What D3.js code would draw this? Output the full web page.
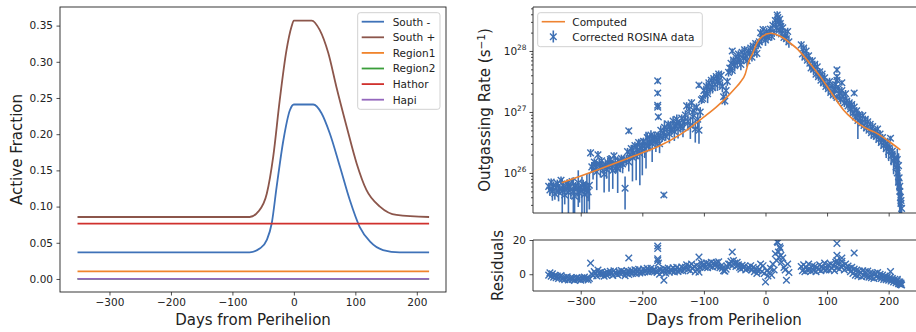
<!DOCTYPE html>
<html>
<head>
<meta charset="utf-8">
<script src="https://cdn.jsdelivr.net/npm/d3@7"></script>
<style>
  body { margin: 0; background: #fff; }
  svg text { font-family: "DejaVu Sans", sans-serif; fill: #222; }
</style>
</head>
<body>
<svg id="chart" width="916" height="332"></svg>
<script>
// ---------- left panel: active fraction per region ----------
const regionNames = ['South -', 'South +', 'Region1', 'Region2', 'Hathor', 'Hapi'];
const regionColors = ['#3f72b8', '#8c564b', '#f0842c', '#3a9e3a', '#d0312d', '#9467bd'];

const southMinusDay = [-352, -72, -55, -44, -36, -28, -17, -6.5, 0, 31.5, 45, 58.5, 75, 91, 107, 124, 145, 172, 220];
const southMinusVal = [0.0368, 0.0368, 0.0424, 0.054, 0.077, 0.1275, 0.192, 0.233, 0.241, 0.241, 0.229, 0.201, 0.155, 0.109, 0.072, 0.0515, 0.040, 0.0368, 0.0368];

const southPlusDay = [-352, -72, -58, -44, -33.6, -23, -12, -4, 0, 29, 42, 56, 69, 86, 102, 118, 140, 167, 220];
const southPlusVal = [0.0856, 0.0856, 0.093, 0.118, 0.169, 0.247, 0.316, 0.348, 0.357, 0.357, 0.344, 0.312, 0.266, 0.210, 0.160, 0.123, 0.100, 0.0884, 0.0856];

const flatDay = [-352, 220];
const region1Val = [0.0105, 0.0105];
const region2Val = [0.0, 0.0];
const hathorVal = [0.0764, 0.0764];
const hapiVal = [0.0, 0.0];

const dayTicks = [-300, -200, -100, 0, 100, 200];
const fracTicks = [0, 0.05, 0.10, 0.15, 0.20, 0.25, 0.30, 0.35];

// ---------- right panel: computed curve (log10 of rate) ----------
const modelDay = [-331, -300, -270, -231, -200, -171, -140, -120, -101, -80, -63, -50, -40, -33, -28,
  -20, -14, -5, 8, 24, 40, 52, 62, 75, 89, 108, 127, 140, 154, 168, 181, 200, 219];
const modelLogQ = [25.84, 25.95, 26.06, 26.21, 26.33, 26.45, 26.62, 26.76, 26.91, 27.08, 27.24, 27.38, 27.50, 27.62, 27.80,
  27.98, 28.13, 28.24, 28.29, 28.24, 28.13, 28.03, 27.92, 27.76, 27.58, 27.30, 27.03, 26.90, 26.79, 26.71, 26.65, 26.52, 26.38];

// ---------- corrected ROSINA data: day, log10 rate, relative error, residual ----------
const obsDay = [
  -352, -350, -348, -346, -344, -342, -340, -338, -336, -334, -332, -330, -328, -326, -324, -322, -320, -318, -316, -314, -312, -310, -308, -306, -304, -302, -300, -298, -296, -294, -292, -290, -288, -286,
  -284, -282, -280, -278, -276, -274, -272, -270, -268, -266, -264, -262, -260, -258, -256, -254, -252, -250, -248, -246, -244, -242, -240, -238, -236, -234, -232, -230,
  -228, -222,
  -226, -224, -222, -220, -218, -216, -214, -212, -210, -208, -206, -204, -202, -200, -198, -196, -194, -192, -190, -188, -186, -184, -182, -180, -178,
  -175, -175, -175, -175, -174, -165,
  -176, -174, -172, -170, -168, -166, -164, -162, -160, -158, -156, -154, -152, -150, -148, -146, -144, -142, -140, -138, -136, -134, -132,
  -130, -128, -126, -124, -122, -120, -118, -116, -114, -112, -110, -108, -106, -104,
  -108,
  -102, -100, -98, -96, -94, -92, -90, -88, -86, -84, -82, -80, -78, -76, -74,
  -72, -70, -68, -66, -64, -62, -60,
  -58, -56, -54, -52, -50, -48, -46, -44, -42, -40, -38, -36, -34, -32, -30, -28,
  -54,
  -26, -24, -22, -20, -18, -16, -14, -12,
  -10, -8, -6, -4, -2, 0, 2, 4, 6, 8, 10, 12, 14, 16, 18, 20, 22, 24, 26, 28, 30,
  19, 21, 23, 25,
  32, 34, 36, 38,
  58, 60, 62, 64, 66, 68, 70, 72, 74, 76, 78, 80, 82, 84, 86, 88, 90, 92, 94, 96, 98,
  100, 102, 104, 106, 108, 110, 112, 114, 116, 118, 120, 122, 124, 126, 128, 130, 132, 134,
  116, 116, 116, 124, 144,
  136, 138, 140, 142, 144, 146, 148, 150, 152, 154, 156, 158, 160, 162, 164, 166, 168, 170, 172, 174, 176,
  178, 180, 182, 184, 186, 188, 190, 192, 194, 196, 198, 200, 202, 204, 206, 208, 210, 212, 214, 216, 218, 220,
  214, 216, 217, 218, 219, 220, 221,
  203
];
const obsLogQ = [
  25.78, 25.72, 25.85, 25.70, 25.80, 25.66, 25.76, 25.83, 25.69, 25.74, 25.88, 25.71, 25.79, 25.64, 25.75, 25.82, 25.68, 25.77, 25.73, 25.86, 25.70, 25.62, 25.79, 25.74, 25.84, 25.67, 25.76, 25.71, 25.81, 25.65, 25.78, 25.73, 25.69, 25.80,
  26.33, 26.10, 26.05, 26.18, 26.12, 26.02, 26.30, 26.15, 26.08, 26.20, 26.11, 25.98, 26.14, 26.06, 26.17, 26.09, 26.22, 26.13, 26.04, 26.28, 26.16, 26.10, 26.07, 26.19, 26.12, 26.24, 26.15, 26.20,
  25.75, 26.69,
  26.22, 26.35, 26.18, 26.30, 26.40, 26.26, 26.33, 26.45, 26.28, 26.38, 26.50, 26.32, 26.42, 26.36, 26.52, 26.40, 26.47, 26.58, 26.44, 26.51, 26.62, 26.48, 26.55, 26.60, 26.50,
  27.51, 27.31, 27.11, 27.08, 26.92, 25.64,
  26.55, 26.62, 26.48, 26.70, 26.58, 26.66, 26.75, 26.60, 26.72, 26.80, 26.64, 26.77, 26.70, 26.85, 26.68, 26.78, 26.88, 26.72, 26.82, 26.76, 26.90, 26.74, 26.84,
  26.95, 27.10, 26.85, 27.05, 26.78, 27.15, 26.92, 27.02, 26.72, 27.08, 26.88, 26.70, 27.00, 27.20,
  27.44,
  27.22, 27.35, 27.28, 27.42, 27.30, 27.48, 27.38, 27.52, 27.40, 27.55, 27.45, 27.58, 27.50, 27.62, 27.48,
  27.60, 27.42, 27.25, 27.18, 27.35, 27.50, 27.65,
  27.72, 27.80, 27.68, 27.85, 27.76, 27.90, 27.82, 27.95, 27.86, 27.78, 27.98, 27.88, 28.02, 27.92, 27.84, 28.00,
  28.00,
  27.95, 28.05, 27.90, 28.08, 28.00, 28.12, 27.96, 28.10,
  28.15, 28.30, 28.20, 28.35, 28.25, 28.18, 28.32, 28.22, 28.28, 28.36, 28.24, 28.42, 28.30, 28.50, 28.38, 28.55, 28.34, 28.45, 28.28, 28.38, 28.22,
  28.59, 28.48, 28.52, 28.40,
  28.28, 28.20, 28.32, 28.15,
  28.10, 27.95, 28.05, 27.90, 28.00, 27.85, 27.92, 27.80, 27.72, 27.84, 27.70, 27.78, 27.62, 27.74, 27.58, 27.66, 27.52, 27.62, 27.48, 27.56, 27.42,
  27.45, 27.38, 27.50, 27.32, 27.42, 27.28, 27.36, 27.45, 27.24, 27.38, 27.30, 27.20, 27.35, 27.26, 27.15, 27.30, 27.18, 27.10,
  27.69, 27.58, 27.52, 27.48, 27.31,
  27.15, 27.05, 27.12, 26.98, 27.08, 26.92, 27.02, 26.86, 26.96, 26.90, 26.82, 26.94, 26.78, 26.88, 26.74, 26.84, 26.70, 26.80, 26.66, 26.76, 26.62,
  26.68, 26.60, 26.72, 26.55, 26.64, 26.50, 26.58, 26.45, 26.52, 26.40, 26.48, 26.35, 26.42, 26.28, 26.36, 26.20, 26.25, 26.10, 26.00, 25.85, 25.70, 25.55,
  26.22, 26.12, 25.92, 25.78, 25.60, 25.50, 25.42,
  26.57
];
const obsErr = [
  0.15, 0.2, 0.15, 0.3, 0.15, 0.2, 0.15, 0.15, 0.3, 0.2, 0.15, 0.6, 0.2, 0.3, 0.15, 0.2, 0.6, 0.15, 0.3, 0.15, 0.7, 0.5, 0.15, 0.2, 0.6, 0.3, 0.15, 0.7, 0.2, 0.6, 0.2, 0.8, 0.3, 0.6,
  0.15, 0.2, 0.3, 0.15, 0.2, 0.5, 0.15, 0.2, 0.3, 0.15, 0.2, 0.5, 0.15, 0.3, 0.2, 0.6, 0.15, 0.2, 0.5, 0.15, 0.3, 0.2, 0.6, 0.15, 0.2, 0.15, 0.3, 0.2,
  0.55, 0.1,
  0.2, 0.15, 0.3, 0.2, 0.15, 0.6, 0.2, 0.15, 0.6, 0.3, 0.15, 0.7, 0.2, 0.6, 0.15, 0.3, 0.6, 0.2, 0.15, 0.3, 0.2, 0.5, 0.15, 0.2, 0.3,
  0.1, 0.1, 0.1, 0.1, 0.1, 0.1,
  0.2, 0.15, 0.3, 0.2, 0.15, 0.2, 0.3, 0.15, 0.2, 0.15, 0.3, 0.2, 0.15, 0.2, 0.3, 0.15, 0.2, 0.3, 0.15, 0.2, 0.15, 0.3, 0.2,
  0.2, 0.15, 0.3, 0.2, 0.4, 0.15, 0.3, 0.2, 0.4, 0.15, 0.3, 0.4, 0.2, 0.15,
  0.1,
  0.15, 0.2, 0.15, 0.2, 0.3, 0.15, 0.2, 0.15, 0.2, 0.15, 0.2, 0.15, 0.3, 0.15, 0.2,
  0.15, 0.2, 0.2, 0.15, 0.2, 0.15, 0.15,
  0.15, 0.2, 0.15, 0.15, 0.2, 0.15, 0.2, 0.15, 0.15, 0.2, 0.15, 0.2, 0.15, 0.15, 0.2, 0.15,
  0.1,
  0.15, 0.15, 0.15, 0.15, 0.15, 0.15, 0.15, 0.15,
  0.15, 0.15, 0.2, 0.15, 0.15, 0.2, 0.15, 0.15, 0.2, 0.15, 0.15, 0.2, 0.15, 0.2, 0.15, 0.2, 0.15, 0.2, 0.15, 0.2, 0.15,
  0.15, 0.15, 0.15, 0.15,
  0.15, 0.2, 0.15, 0.2,
  0.15, 0.2, 0.15, 0.15, 0.2, 0.15, 0.15, 0.2, 0.15, 0.15, 0.2, 0.15, 0.15, 0.2, 0.15, 0.15, 0.2, 0.15, 0.15, 0.2, 0.15,
  0.15, 0.2, 0.15, 0.15, 0.2, 0.15, 0.15, 0.2, 0.15, 0.15, 0.2, 0.15, 0.15, 0.2, 0.15, 0.15, 0.2, 0.15,
  0.1, 0.1, 0.1, 0.1, 0.1,
  0.15, 0.2, 0.15, 0.15, 0.2, 0.15, 0.15, 0.5, 0.15, 0.2, 0.15, 0.15, 0.2, 0.15, 0.15, 0.2, 0.15, 0.15, 0.2, 0.15, 0.15,
  0.15, 0.2, 0.15, 0.2, 0.15, 0.2, 0.15, 0.2, 0.15, 0.3, 0.2, 0.3, 0.2, 0.3, 0.2, 0.4, 0.3, 0.5, 0.5, 0.6, 0.7, 0.8,
  0.5, 0.6, 0.6, 0.7, 0.8, 0.8, 0.9,
  0.1
];
const obsResidual = [
  -0.5, 0.8, -1.2, 0.3, -1.8, -0.6, -2.1, -1.0, -2.5, -1.4, -0.8, -2.8, -1.9, -3.2, -2.2, -1.5, -3.4, -2.6, -2.0, -3.1, -2.4, -3.6, -2.7, -1.9, -3.0, -2.3, -3.5, -2.1, -2.8, -1.6, -2.9, -2.2, -3.3, -2.5,
  6.5, 0.2, -0.8, 1.5, 0.4, -1.0, 2.5, 0.9, -0.3, 1.4, 0.1, -1.2, 0.8, -0.5, 1.2, 0.0, 1.7, 0.6, -0.7, 2.0, 0.9, 0.3, -0.4, 1.3, 0.5, 2.2, 0.8, 1.5,
  -0.8, 9.5,
  0.6, 1.8, -0.2, 1.1, 2.3, 0.4, 1.2, 2.6, 0.3, 1.5, 2.9, 0.8, 1.9, 1.0, 3.0, 1.4, 2.2, 3.4, 1.3, 2.0, 3.5, 1.6, 2.4, 2.8, 1.7,
  16.5, 15.0, 9.0, 8.0, 6.5, -3.5,
  1.0, 2.2, 0.0, 2.8, 1.2, 2.0, 3.2, 0.6, 2.5, 3.6, 1.2, 2.8, 1.8, 3.8, 1.4, 2.6, 4.0, 1.6, 3.0, 2.2, 4.2, 1.9, 3.2,
  4.0, 5.5, 2.8, 4.8, 2.0, 6.0, 3.5, 4.5, 1.5, 5.2, 3.0, 1.2, 4.2, 6.5,
  10.0,
  4.5, 6.0, 4.0, 6.5, 3.8, 6.2, 4.5, 7.0, 4.2, 6.5, 5.0, 6.8, 4.5, 7.2, 3.8,
  5.0, 3.5, 2.0, 1.8, 3.0, 4.5, 6.0,
  6.0, 7.5, 5.0, 8.0, 6.5, 4.5, 7.0, 5.5, 4.0, 3.0, 5.2, 3.8, 4.6, 2.5, 3.2, 4.0,
  13.0,
  3.5, 5.0, 2.5, 4.0, 1.5, 3.0, 0.5, 2.0,
  3.0, 6.0, 1.5, 5.0, 0.5, -4.5, 2.0, -1.0, 1.0, 3.5, -0.5, 6.0, 2.5, 12.0, 8.0, 18.5, 10.0, 15.0, 7.0, 9.5, 4.0,
  19.0, 13.0, 16.0, 11.0,
  2.5, -3.5, 6.0, 1.0,
  4.5, 2.0, 5.5, 1.5, 4.0, 2.5, 6.0, 3.0, 1.8, 5.0, 2.2, 4.5, 1.5, 3.8, 2.8, 5.5, 2.0, 4.2, 3.0, 6.5, 2.5,
  3.0, 5.5, 2.5, 6.0, 3.5, 5.0, 2.0, 7.0, 4.0, 6.5, 3.0, 4.5, 7.5, 5.0, 2.5, 6.0, 3.5, 4.8,
  18.0, 11.0, 8.0, 9.5, 12.4,
  3.5, 1.5, 4.0, 0.5, 3.0, -0.5, 2.5, -1.0, 2.0, 1.0, -1.5, 2.0, -0.8, 1.5, -1.2, 1.8, -1.8, 0.8, -2.0, 0.5, -2.5,
  0.5, -1.5, 1.0, -2.0, 0.0, -2.5, -0.5, -3.0, -1.0, -3.2, -1.5, -3.5, -2.0, -4.0, -2.5, -4.5, -3.0, -5.0, -3.8, -5.5, -4.5, -6.0,
  -3.0, -4.5, -5.0, -5.5, -6.0, -5.2, -6.3,
  1.5
];

const logTicks = [26, 27, 28];
const residualTicks = [0, 20];

// ---------- drawing ----------
const svg = d3.select('#chart');
const ink = '#222';
const dataBlue = '#3d6fb3';
const computedOrange = '#ee8331';

const fmtDay = d => (d < 0 ? '\u2212' + Math.abs(d) : String(d));

function styleAxis(g) {
  g.select('.domain').remove();
  g.attr('font-family', 'DejaVu Sans').attr('font-size', 10.5);
  g.selectAll('.tick line').attr('stroke', ink).attr('stroke-width', 0.8);
  g.selectAll('.tick text').attr('fill', ink);
}

function addClip(id, x, y, w, h) {
  svg.append('clipPath').attr('id', id)
    .append('rect').attr('x', x).attr('y', y).attr('width', w).attr('height', h);
}

// Left panel
const xL = d3.scaleLinear().domain([-380.5, 247.5]).range([60, 446]);
const yL = d3.scaleLinear().domain([-0.018, 0.3757]).range([292, 7]);
addClip('clipL', 60, 7, 386, 285);

const leftSeries = [
  { day: southMinusDay, val: southMinusVal },
  { day: southPlusDay, val: southPlusVal },
  { day: flatDay, val: region1Val },
  { day: flatDay, val: region2Val },
  { day: flatDay, val: hathorVal },
  { day: flatDay, val: hapiVal },
];

const lineL = d3.line().x(d => xL(d[0])).y(d => yL(d[1])).curve(d3.curveMonotoneX);
svg.append('g').attr('clip-path', 'url(#clipL)')
  .selectAll('path')
  .data(leftSeries)
  .enter()
  .append('path')
  .attr('d', s => lineL(s.day.map((d, i) => [d, s.val[i]])))
  .attr('fill', 'none')
  .attr('stroke', (s, i) => regionColors[i])
  .attr('stroke-width', 1.8);

svg.append('g').attr('transform', 'translate(0,292)')
  .call(d3.axisBottom(xL).tickValues(dayTicks).tickFormat(fmtDay).tickSize(3.5).tickPadding(3.5))
  .call(styleAxis);
svg.append('g').attr('transform', 'translate(60,0)')
  .call(d3.axisLeft(yL).tickValues(fracTicks).tickFormat(d3.format('.2f')).tickSize(3.5).tickPadding(3.5))
  .call(styleAxis);
svg.append('rect').attr('x', 60).attr('y', 7).attr('width', 386).attr('height', 285)
  .attr('fill', 'none').attr('stroke', ink).attr('stroke-width', 0.9);

svg.append('text').attr('x', 253).attr('y', 324.5).attr('text-anchor', 'middle')
  .attr('font-size', 15).text('Days from Perihelion');
svg.append('text').attr('transform', 'translate(22,149.5) rotate(-90)').attr('text-anchor', 'middle')
  .attr('font-size', 15).text('Active Fraction');

// left legend
const legL = svg.append('g');
legL.append('rect').attr('x', 357.7).attr('y', 12.7).attr('width', 82.3).attr('height', 96.6)
  .attr('rx', 2.5).attr('fill', '#fff').attr('fill-opacity', 0.8).attr('stroke', '#ccc').attr('stroke-width', 0.9);
const legRows = legL.selectAll('.row').data(regionNames).enter().append('g')
  .attr('transform', (d, i) => `translate(0,${21.7 + i * 15.6})`);
legRows.append('line').attr('x1', 361.7).attr('x2', 384).attr('y1', 0).attr('y2', 0)
  .attr('stroke', (d, i) => regionColors[i]).attr('stroke-width', 1.8);
legRows.append('text').attr('x', 392.7).attr('y', 3.8).attr('font-size', 10.5).text(d => d);

// Right top panel
const xR = d3.scaleLinear().domain([-377.5, 246]).range([533, 917]);
const yT = d3.scaleLog().domain([Math.pow(10, 25.344), Math.pow(10, 28.721)]).range([213, 7]);
addClip('clipT', 533, 7, 384, 206);

const n = Math.min(obsDay.length, obsLogQ.length, obsErr.length, obsResidual.length);
const obs = d3.range(n).map(i => ({
  day: obsDay[i], q: Math.pow(10, obsLogQ[i]), e: obsErr[i], r: obsResidual[i],
}));

const gT = svg.append('g').attr('clip-path', 'url(#clipT)');
// error bars
gT.selectAll('line.err').data(obs).enter().append('line').attr('class', 'err')
  .attr('x1', d => xR(d.day)).attr('x2', d => xR(d.day))
  .attr('y1', d => yT(d.q * (1 + d.e)))
  .attr('y2', d => (d.e >= 0.999 ? 220 : Math.min(220, yT(d.q * (1 - d.e)))))
  .attr('stroke', dataBlue).attr('stroke-width', 1.6);
const xMark = 'M-3.3,-3.3L3.3,3.3M-3.3,3.3L3.3,-3.3';
gT.selectAll('path.mk').data(obs).enter().append('path').attr('class', 'mk')
  .attr('d', xMark)
  .attr('transform', d => `translate(${xR(d.day)},${yT(d.q)})`)
  .attr('fill', 'none').attr('stroke', dataBlue).attr('stroke-width', 1.4);
// computed curve
const lineT = d3.line().x(d => xR(d[0])).y(d => yT(Math.pow(10, d[1]))).curve(d3.curveMonotoneX);
gT.append('path')
  .attr('d', lineT(modelDay.map((d, i) => [d, modelLogQ[i]])))
  .attr('fill', 'none').attr('stroke', computedOrange).attr('stroke-width', 1.6);

svg.append('g').attr('transform', 'translate(0,213)')
  .call(d3.axisBottom(xR).tickValues(dayTicks).tickFormat('').tickSize(3.5))
  .call(styleAxis);
const majorQ = logTicks.map(p => Math.pow(10, p));
const minorQ = [];
[25, 26, 27, 28].forEach(p => {
  for (let m = 2; m <= 9; m++) {
    const v = m * Math.pow(10, p);
    if (v >= yT.domain()[0] && v <= yT.domain()[1]) minorQ.push(v);
  }
});
svg.append('g').attr('transform', 'translate(533,0)')
  .call(d3.axisLeft(yT).tickValues(majorQ).tickFormat('').tickSize(3.5))
  .call(styleAxis);
svg.append('g').attr('transform', 'translate(533,0)')
  .call(d3.axisLeft(yT).tickValues(minorQ).tickFormat('').tickSize(2))
  .call(styleAxis);
const powLabels = svg.append('g').selectAll('text').data(logTicks).enter().append('text')
  .attr('x', 526.5).attr('y', p => yT(Math.pow(10, p)) + 3.8)
  .attr('text-anchor', 'end').attr('font-size', 10.5);
powLabels.append('tspan').text('10');
powLabels.append('tspan').attr('dy', -4.6).attr('font-size', 7.4).text(p => p);

svg.append('line').attr('x1', 533).attr('x2', 533).attr('y1', 7).attr('y2', 213).attr('stroke', ink).attr('stroke-width', 0.9);
svg.append('line').attr('x1', 533).attr('x2', 917).attr('y1', 7).attr('y2', 7).attr('stroke', ink).attr('stroke-width', 0.9);
svg.append('line').attr('x1', 533).attr('x2', 917).attr('y1', 213).attr('y2', 213).attr('stroke', ink).attr('stroke-width', 0.9);

const yLabel = svg.append('text').attr('transform', 'translate(490,110) rotate(-90)')
  .attr('text-anchor', 'middle').attr('font-size', 15);
yLabel.append('tspan').text('Outgassing Rate (s');
yLabel.append('tspan').attr('dy', -5.5).attr('font-size', 10.5).text('\u22121');
yLabel.append('tspan').attr('dy', 5.5).text(')');

// right legend
const legR = svg.append('g');
legR.append('rect').attr('x', 537.7).attr('y', 12.7).attr('width', 164.6).attr('height', 34)
  .attr('rx', 2.5).attr('fill', '#fff').attr('fill-opacity', 0.8).attr('stroke', '#ccc').attr('stroke-width', 0.9);
legR.append('line').attr('x1', 541.7).attr('x2', 565).attr('y1', 21.7).attr('y2', 21.7)
  .attr('stroke', computedOrange).attr('stroke-width', 1.6);
legR.append('text').attr('x', 572.3).attr('y', 25.5).attr('font-size', 10.5).text('Computed');
legR.append('line').attr('x1', 553.3).attr('x2', 553.3).attr('y1', 30.5).attr('y2', 42.5)
  .attr('stroke', dataBlue).attr('stroke-width', 1.6);
legR.append('path').attr('d', xMark).attr('transform', 'translate(553.3,36.7)')
  .attr('fill', 'none').attr('stroke', dataBlue).attr('stroke-width', 1.4);
legR.append('text').attr('x', 572.3).attr('y', 40.5).attr('font-size', 10.5).text('Corrected ROSINA data');

// Right bottom panel: residuals
const yRes = d3.scaleLinear().domain([-9.8, 20]).range([291, 240]);
addClip('clipB', 533, 240, 384, 51);
svg.append('g').attr('clip-path', 'url(#clipB)')
  .selectAll('path').data(obs).enter().append('path')
  .attr('d', xMark)
  .attr('transform', d => `translate(${xR(d.day)},${yRes(d.r)})`)
  .attr('fill', 'none').attr('stroke', dataBlue).attr('stroke-width', 1.4);

svg.append('g').attr('transform', 'translate(0,291)')
  .call(d3.axisBottom(xR).tickValues(dayTicks).tickFormat(fmtDay).tickSize(3.5).tickPadding(3.5))
  .call(styleAxis);
svg.append('g').attr('transform', 'translate(533,0)')
  .call(d3.axisLeft(yRes).tickValues(residualTicks).tickSize(3.5).tickPadding(3.5))
  .call(styleAxis);
svg.append('line').attr('x1', 533).attr('x2', 533).attr('y1', 240).attr('y2', 291).attr('stroke', ink).attr('stroke-width', 0.9);
svg.append('line').attr('x1', 533).attr('x2', 917).attr('y1', 240).attr('y2', 240).attr('stroke', ink).attr('stroke-width', 0.9);
svg.append('line').attr('x1', 533).attr('x2', 917).attr('y1', 291).attr('y2', 291).attr('stroke', ink).attr('stroke-width', 0.9);

svg.append('text').attr('transform', 'translate(503,265.5) rotate(-90)').attr('text-anchor', 'middle')
  .attr('font-size', 15).text('Residuals');
svg.append('text').attr('x', 724).attr('y', 325).attr('text-anchor', 'middle')
  .attr('font-size', 15).text('Days from Perihelion');
</script>
</body>
</html>
